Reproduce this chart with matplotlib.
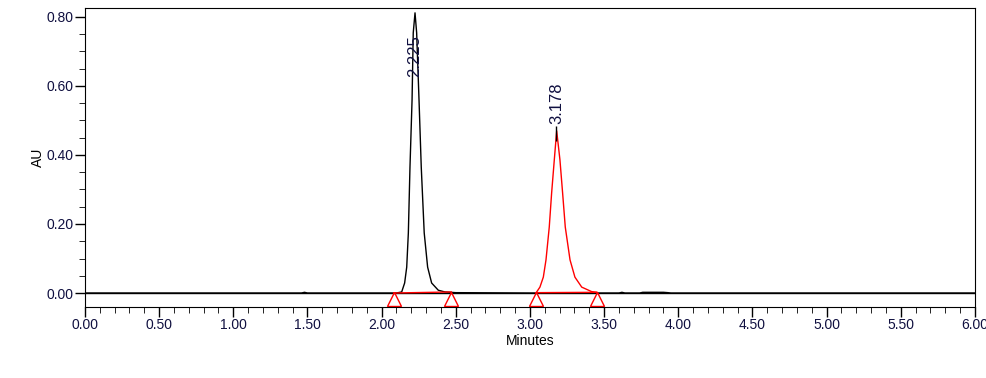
import matplotlib
matplotlib.use("Agg")
import matplotlib.pyplot as plt
from matplotlib.ticker import MultipleLocator, FormatStrFormatter

plt.rcParams['font.family'] = ['Liberation Sans', 'DejaVu Sans']

# black trace: baseline + first peak (minutes, AU)
trace_t = [0.00, 1.46, 1.48, 1.50, 2.00, 2.10, 2.135, 2.155, 2.169, 2.180, 2.191, 2.205, 2.213,
           2.225, 2.236, 2.252, 2.267, 2.287, 2.310, 2.337, 2.382, 2.427, 2.50, 3.00,
           3.60, 3.62, 3.64, 3.74, 3.76, 3.90, 3.93, 3.95, 6.00]
trace_au = [0.000, 0.000, 0.002, 0.000, 0.000, 0.000, 0.003, 0.029, 0.075, 0.174, 0.365, 0.559, 0.754,
            0.812, 0.754, 0.559, 0.365, 0.174, 0.075, 0.029, 0.008, 0.003, 0.001, 0.000,
            0.000, 0.002, 0.000, 0.000, 0.002, 0.002, 0.001, 0.000, 0.000]

# second peak, drawn in red
peak2_t = [3.045, 3.067, 3.090, 3.108, 3.130, 3.146, 3.164, 3.180, 3.202, 3.220, 3.238,
           3.270, 3.303, 3.349, 3.416, 3.45]
peak2_au = [0.003, 0.017, 0.046, 0.096, 0.191, 0.290, 0.386, 0.470, 0.386, 0.290, 0.191,
            0.096, 0.046, 0.017, 0.004, 0.002]

# integration baselines (start, end)
base_t = [(2.08, 2.47), (3.04, 3.45)]
base_au = [(0.000, 0.003), (0.001, 0.002)]
marks = [2.08, 2.47, 3.04, 3.45]

# retention time labels
rt = [2.225, 3.178]
rt_label_y = [0.625, 0.49]

fig = plt.figure(figsize=(9.86, 3.78), dpi=100)
ax = fig.add_axes([0.0862, 0.1878, 0.9026, 0.791])

ax.axhline(0, color='black', lw=1)
ax.plot(trace_t, trace_au, color='black', lw=1)
ax.plot(peak2_t, peak2_au, color='red', lw=1)
for (t0, t1), (a0, a1) in zip(base_t, base_au):
    ax.plot([t0, t1], [a0, a1], color='red', lw=1)
ax.plot(marks, [-0.017] * len(marks), ls='none', marker='^', ms=10,
        mfc='none', mec='red', mew=1)

ax.vlines(rt[1], 0.44, 0.485, color='black', lw=1)
for t, y in zip(rt, rt_label_y):
    ax.text(t, y, f"{t:.3f}", rotation=90, ha='center', va='bottom',
            fontsize=12, color='#101040')

ax.set_xlim(0, 6)
ax.set_ylim(-0.0406, 0.826)
ax.xaxis.set_major_locator(MultipleLocator(0.5))
ax.xaxis.set_minor_locator(MultipleLocator(0.1))
ax.yaxis.set_major_locator(MultipleLocator(0.2))
ax.yaxis.set_minor_locator(MultipleLocator(0.05))
ax.xaxis.set_major_formatter(FormatStrFormatter('%.2f'))
ax.yaxis.set_major_formatter(FormatStrFormatter('%.2f'))
ax.tick_params(which='major', length=7, width=1, direction='out', pad=1,
               labelsize=10, labelcolor='#101040')
ax.tick_params(which='minor', length=4, direction='out')
ax.set_xlabel('Minutes', fontsize=10, labelpad=1)
ax.set_ylabel('AU', fontsize=10, labelpad=1)

fig.savefig('out.png', dpi=100)
